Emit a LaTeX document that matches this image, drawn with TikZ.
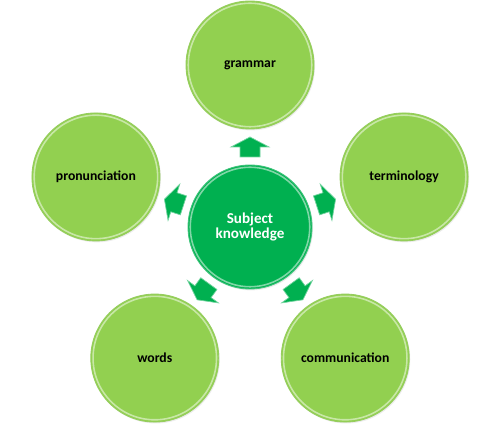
\documentclass[tikz,border=0pt]{standalone}
\usepackage{fontspec}
\setmainfont{Carlito}
\usetikzlibrary{shadows,calc}
\definecolor{lgreen}{RGB}{146,208,80}
\definecolor{dgreen}{RGB}{0,176,80}
\definecolor{rimgreen}{RGB}{150,205,95}
\begin{document}
\begin{tikzpicture}[x=0.02cm,y=0.02cm,
  outer/.style={circle, inner sep=0pt, minimum size=2.56cm, fill=lgreen, draw=rimgreen, line width=0.5pt,
    drop shadow={opacity=0.15, shadow xshift=0.6pt, shadow yshift=-0.8pt},
    path picture={\draw[white, opacity=0.5, line width=0.9pt] (path picture bounding box.center) circle (1.235cm);},
    font=\bfseries\fontsize{7.8}{9}\selectfont, text=black},
  hub/.style={circle, inner sep=0pt, minimum size=2.48cm, fill=dgreen, draw=dgreen!75!white, line width=0.5pt,
    drop shadow={opacity=0.15, shadow xshift=0.6pt, shadow yshift=-0.8pt},
    path picture={\draw[white, opacity=0.5, line width=0.9pt] (path picture bounding box.center) circle (1.195cm);},
    font=\bfseries\fontsize{8.6}{8.8}\selectfont, text=white, align=center},
  blockarrow/.style={fill=dgreen, draw=dgreen!55!white, line width=0.4pt, line join=miter}
]
\useasboundingbox (0,0) rectangle (500,425);
\coordinate (C) at (250,198);
\node[hub] (hub) at (C) {Subject\\knowledge};
\node[outer] (grammar) at ($(C)+(90:162)$) {grammar};
\node[outer] (terminology) at ($(C)+(18:162)$) {terminology};
\node[outer] (communication) at ($(C)+(-54:162)$) {communication};
\node[outer] (words) at ($(C)+(-126:162)$) {words};
\node[outer] (pronunciation) at ($(C)+(162:162)$) {pronunciation};
\foreach \a in {90,18,-54,-126,162}{
  \begin{scope}[shift={($(C)+(\a:80)$)}, rotate=\a-90]
    \path[blockarrow] (-10,-10) -- (10,-10) -- (10,0) -- (19,0) -- (0,10) -- (-19,0) -- (-10,0) -- cycle;
  \end{scope}
}
\end{tikzpicture}
\end{document}
